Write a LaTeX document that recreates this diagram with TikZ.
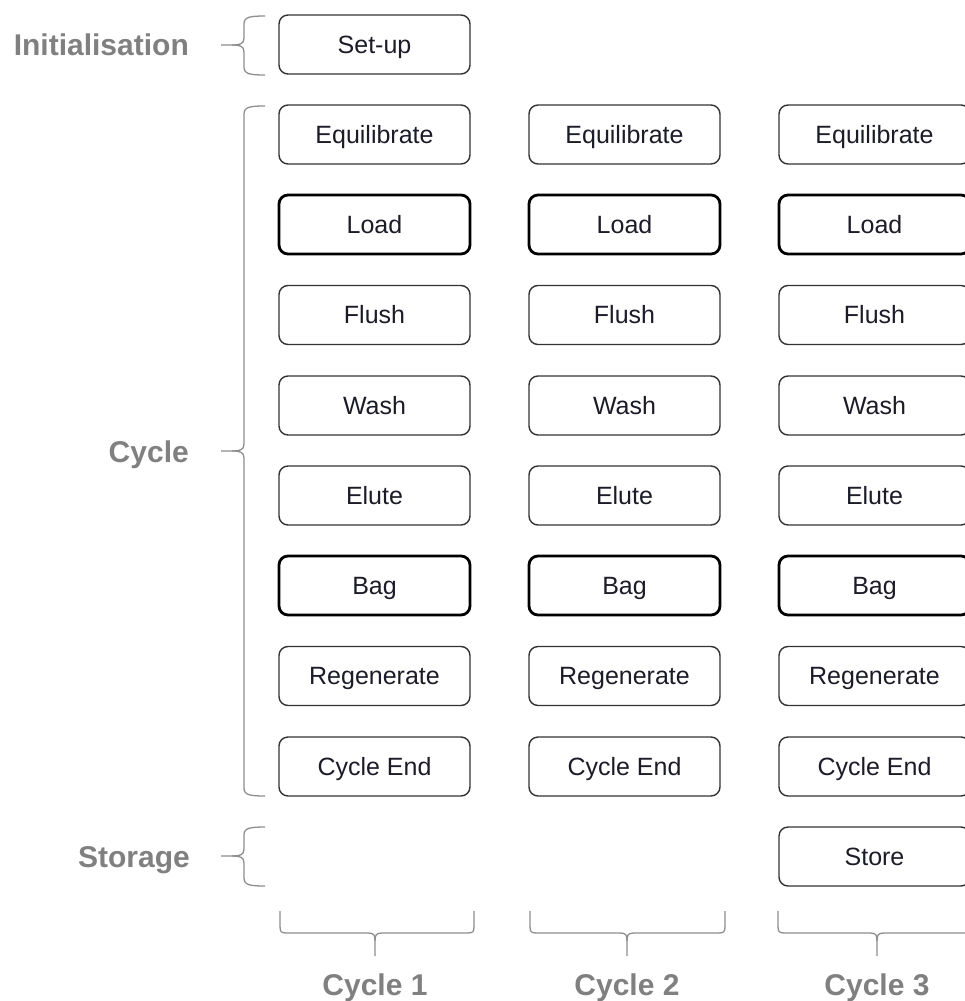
\documentclass[tikz,border=0pt]{standalone}
\usepackage{fontspec}
\setmainfont{Liberation Sans}
\definecolor{boxline}{HTML}{333333}
\definecolor{bracegray}{HTML}{8E8E8E}
\definecolor{labelgray}{HTML}{808080}
\definecolor{steptext}{HTML}{1C1C28}
\tikzset{
  stepbox/.style={draw=boxline, line width=1.4pt, rounded corners=9pt,
    minimum width=191pt, minimum height=59pt, inner sep=0pt,
    text=steptext, font=\fontsize{25pt}{25pt}\selectfont,
    text height=19pt, text depth=2pt},
  keystep/.style={stepbox, draw=black, line width=2.8pt},
  phaselabel/.style={text=labelgray, font=\fontsize{30pt}{30pt}\selectfont\bfseries, inner sep=0pt},
  bracket/.style={draw=bracegray, line width=1.3pt}
}
\begin{document}
\begin{tikzpicture}[x=1pt,y=-1pt]
\clip (0,0) rectangle (965,1001);
\fill[white] (0,0) rectangle (965,1001);

% initialisation step
\node[stepbox] (setup) at (374.5,44.5) {Set-up};

% the three cycles
\foreach \c/\x in {1/374.5,2/624.5,3/874.5}{
  \node[stepbox] (eq\c)    at (\x,134.5) {Equilibrate};
  \node[keystep] (load\c)  at (\x,224.5) {Load};
  \node[stepbox] (flush\c) at (\x,315)   {Flush};
  \node[stepbox] (wash\c)  at (\x,405.5) {Wash};
  \node[stepbox] (elute\c) at (\x,495.5) {Elute};
  \node[keystep] (bag\c)   at (\x,585.5) {Bag};
  \node[stepbox] (regen\c) at (\x,676)   {Regenerate};
  \node[stepbox] (end\c)   at (\x,766.5) {Cycle End};
}
\node[stepbox] (store) at (874.5,856.5) {Store};

% phase labels on the left
\node[phaselabel, anchor=base east] (linit)  at (189,55)  {Initialisation};
\node[phaselabel, anchor=base east] (lcycle) at (189,462) {Cycle};
\node[phaselabel, anchor=base east] (lstore) at (190,867) {Storage};

% left braces grouping the rows
\foreach \t/\m/\b in {16/45/75, 106/451/796, 827/856/886}{
  \draw[bracket] (265,\t) .. controls (250,\t) and (244,\t+1) .. (244,\t+8)
     -- (244,\m-7) .. controls (244,\m-1) and (240,\m) .. (232,\m) -- (221,\m);
  \draw[bracket] (265,\b) .. controls (250,\b) and (244,\b-1) .. (244,\b-8)
     -- (244,\m+7) .. controls (244,\m+1) and (240,\m) .. (232,\m);
}

% bottom braces grouping the columns
\foreach \l/\m/\r in {280/375/474, 530/627/725, 778/877/975}{
  \draw[bracket] (\l,911) -- (\l,926) .. controls (\l,932) and (\l+1,933) .. (\l+7,933)
     -- (\m-7,933) .. controls (\m-1,933) and (\m,935) .. (\m,941) -- (\m,956);
  \draw[bracket] (\r,911) -- (\r,926) .. controls (\r,932) and (\r-1,933) .. (\r-7,933)
     -- (\m+7,933) .. controls (\m+1,933) and (\m,935) .. (\m,941);
}

% column labels
\node[phaselabel, anchor=base] (lc1) at (375,995) {Cycle 1};
\node[phaselabel, anchor=base] (lc2) at (627,995) {Cycle 2};
\node[phaselabel, anchor=base] (lc3) at (877,995) {Cycle 3};
\end{tikzpicture}
\end{document}
